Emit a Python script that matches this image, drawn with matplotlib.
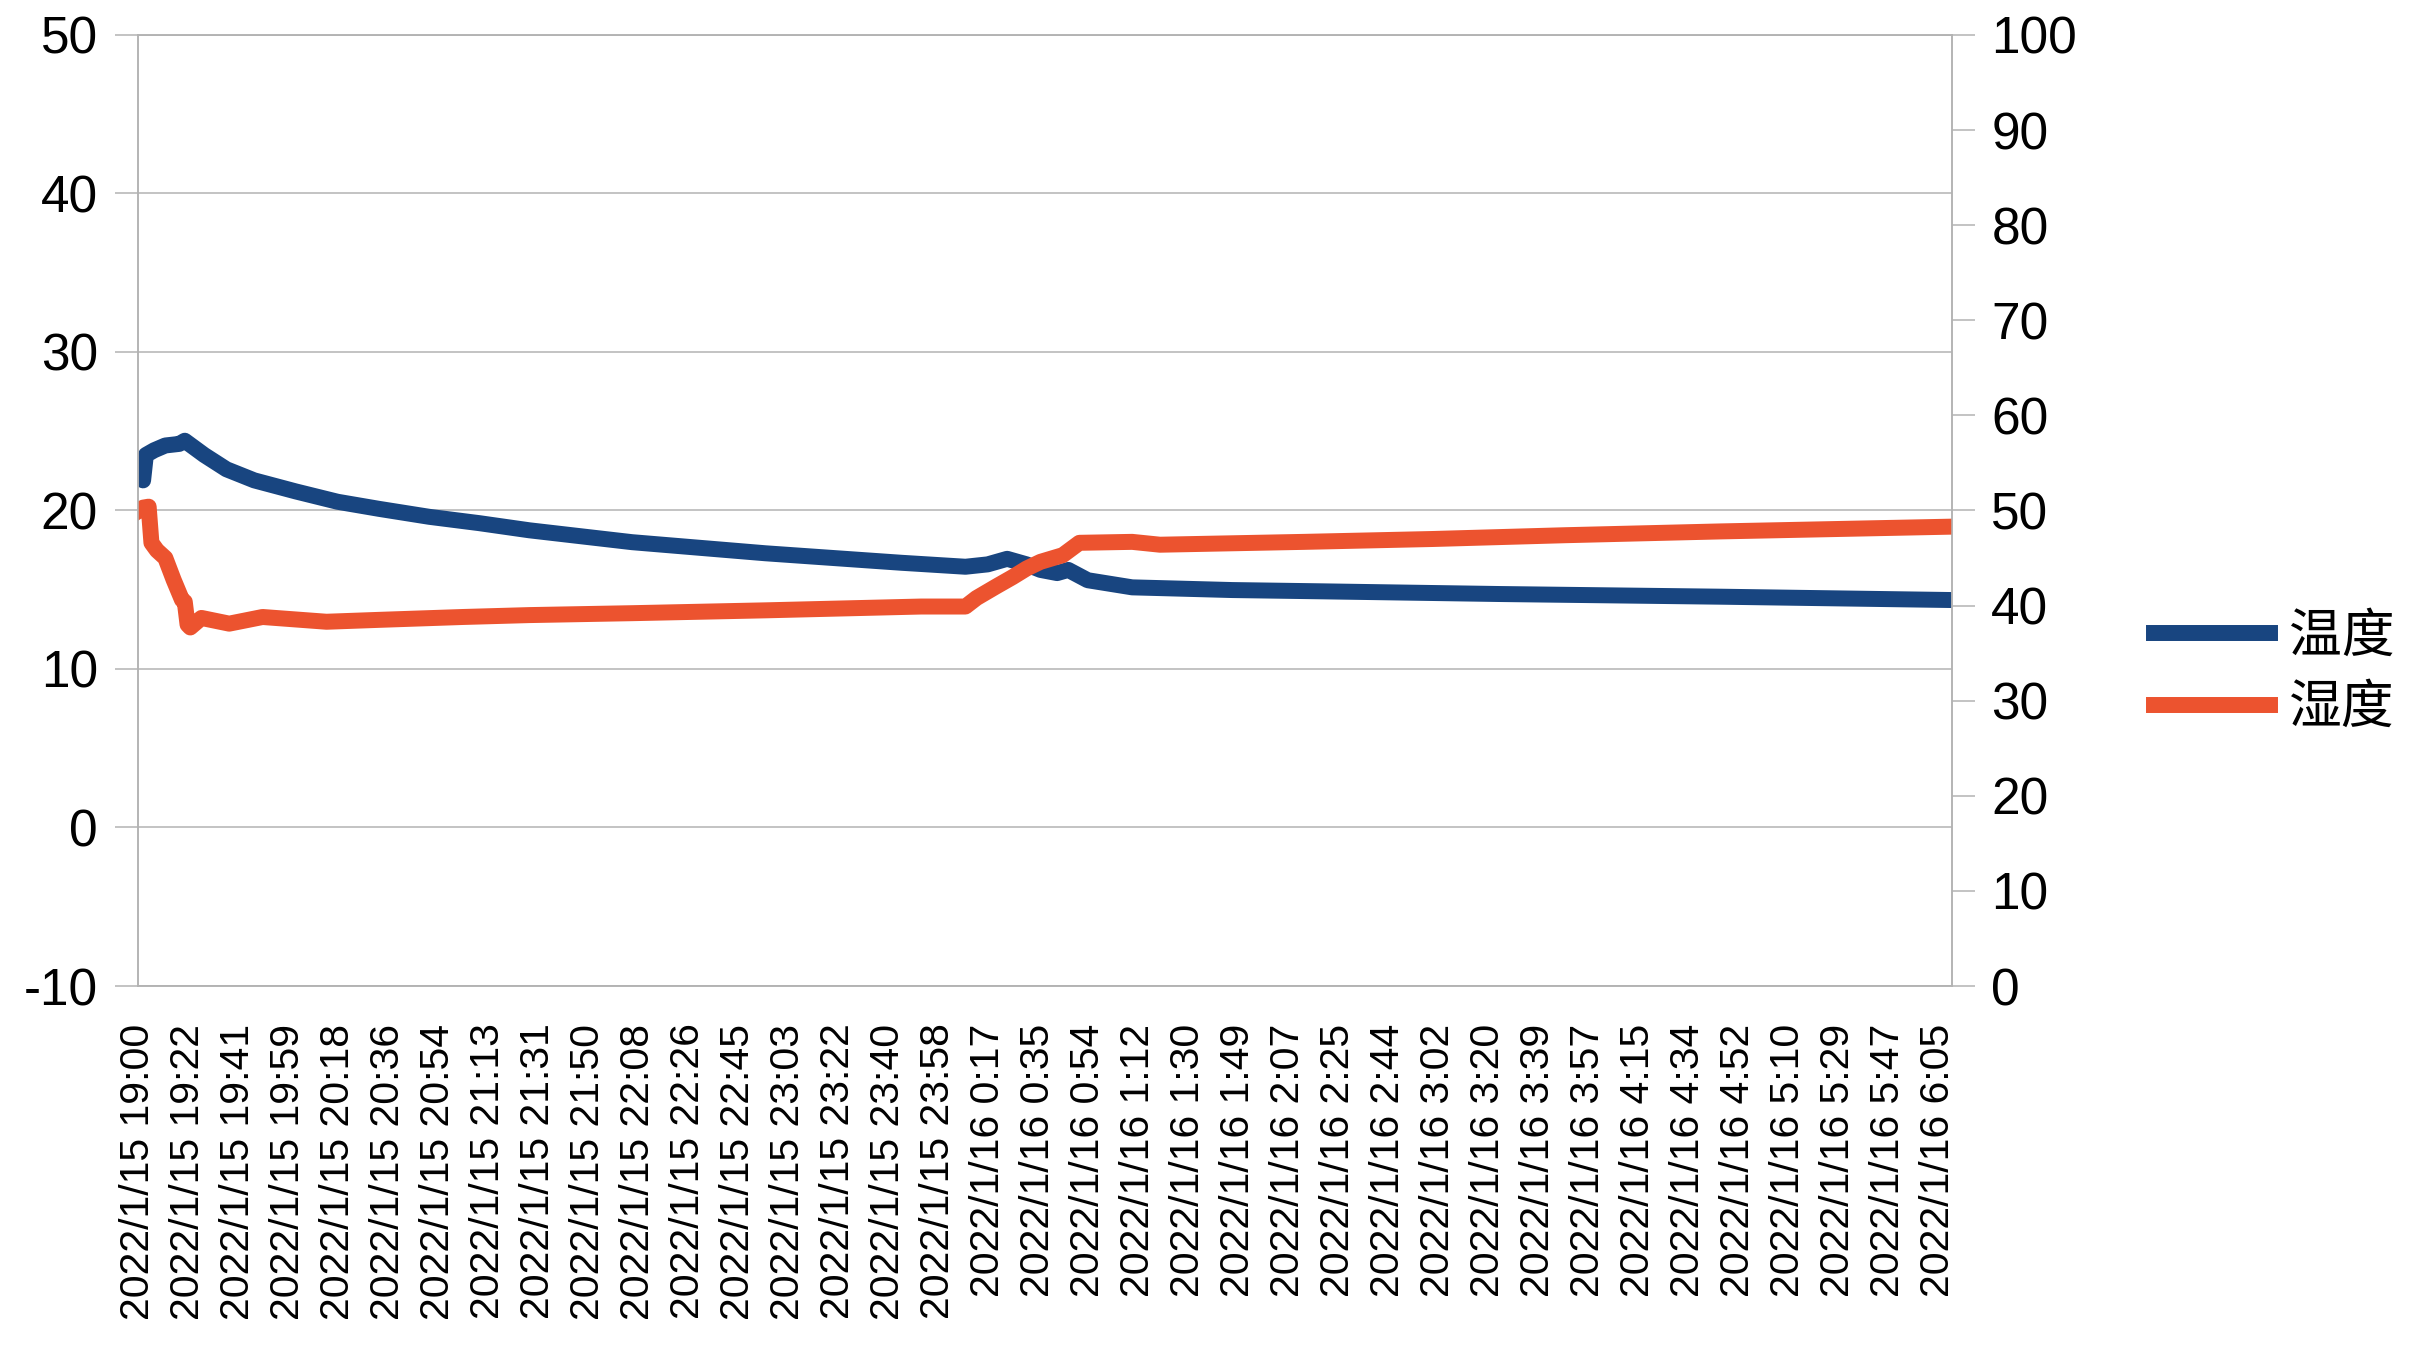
import numpy as np
import matplotlib
matplotlib.use('Agg')
import matplotlib.pyplot as plt

plt.rcParams['font.family'] = ['Liberation Sans', 'Noto Sans CJK SC', 'DejaVu Sans']
plt.rcParams['axes.unicode_minus'] = False

# sample index (one reading per ~1 min) and readings
temp_idx = [0, 2, 3, 6, 10, 15, 17, 24, 32, 42, 57, 72, 87, 105, 123, 141,
            178, 226, 275, 298, 306, 313, 320, 325, 331, 335, 342, 358, 394,
            426, 490, 570, 653]
temp = [22.2, 21.9, 23.5, 23.8, 24.1, 24.2, 24.4, 23.5, 22.6, 21.9, 21.2,
        20.55, 20.1, 19.6, 19.2, 18.75, 18.0, 17.3, 16.7, 16.45, 16.6, 16.95,
        16.6, 16.25, 16.05, 16.25, 15.6, 15.15, 14.98, 14.9, 14.73, 14.56, 14.35]

hum_idx = [0, 2, 4, 5, 7, 10, 13, 16, 17, 18, 19, 23, 33, 45, 68, 87, 117,
           141, 178, 226, 282, 298, 302, 309, 315, 320, 325, 333, 339, 358,
           368, 394, 420, 466, 514, 570, 653]
hum = [49.9, 50.3, 50.4, 46.6, 45.8, 45.0, 42.7, 40.6, 40.4, 38.0, 37.7, 38.7,
       38.1, 38.8, 38.3, 38.5, 38.8, 39.0, 39.2, 39.5, 39.9, 39.9, 40.8, 42.0,
       43.0, 43.9, 44.6, 45.3, 46.6, 46.7, 46.4, 46.55, 46.7, 47.0, 47.4, 47.8,
       48.3]

time_labels = ['2022/1/15 19:00', '2022/1/15 19:22', '2022/1/15 19:41',
               '2022/1/15 19:59', '2022/1/15 20:18', '2022/1/15 20:36',
               '2022/1/15 20:54', '2022/1/15 21:13', '2022/1/15 21:31',
               '2022/1/15 21:50', '2022/1/15 22:08', '2022/1/15 22:26',
               '2022/1/15 22:45', '2022/1/15 23:03', '2022/1/15 23:22',
               '2022/1/15 23:40', '2022/1/15 23:58', '2022/1/16 0:17',
               '2022/1/16 0:35', '2022/1/16 0:54', '2022/1/16 1:12',
               '2022/1/16 1:30', '2022/1/16 1:49', '2022/1/16 2:07',
               '2022/1/16 2:25', '2022/1/16 2:44', '2022/1/16 3:02',
               '2022/1/16 3:20', '2022/1/16 3:39', '2022/1/16 3:57',
               '2022/1/16 4:15', '2022/1/16 4:34', '2022/1/16 4:52',
               '2022/1/16 5:10', '2022/1/16 5:29', '2022/1/16 5:47',
               '2022/1/16 6:05']
label_step = 18
n_samples = 654

blue = '#184580'
orange = '#ec532f'
gray = '#b3b3b3'

fig = plt.figure(figsize=(24.3, 13.6), dpi=100)
ax = fig.add_axes([0.0566, 0.275, 0.7466, 0.6993])
ax2 = ax.twinx()

l1, = ax.plot(temp_idx, temp, color=blue, lw=11.5, solid_joinstyle='round')
l2, = ax2.plot(hum_idx, hum, color=orange, lw=11.5, solid_joinstyle='round')

ax.set_xlim(0, n_samples - 1)
ax.set_ylim(-10, 50)
ax2.set_ylim(0, 100)
ax.set_yticks(np.arange(-10, 51, 10))
ax2.set_yticks(np.arange(0, 101, 10))

ax.set_xticks(np.arange(len(time_labels)) * label_step)
ax.set_xticklabels(time_labels, rotation=90, fontsize=29.5)
ax.tick_params(axis='x', length=0, pad=27)
ax.tick_params(axis='y', labelsize=37, length=16.5, width=1.1, color=gray, pad=12)
ax2.tick_params(axis='y', labelsize=37, length=16.5, width=1.1, color=gray, pad=12)

ax.grid(axis='y', color=gray, lw=1.1)
ax.set_axisbelow(True)
for a in (ax, ax2):
    for s in a.spines.values():
        s.set_color(gray)
        s.set_linewidth(1.1)

fig.legend([l1, l2], ['温度', '湿度'], loc='center left',
           bbox_to_anchor=(0.8864, 0.5048), frameon=False, fontsize=38,
           handlelength=2.2, handletextpad=0.35, borderaxespad=0,
           borderpad=0, labelspacing=0.4)

fig.savefig('out.png', dpi=100)
